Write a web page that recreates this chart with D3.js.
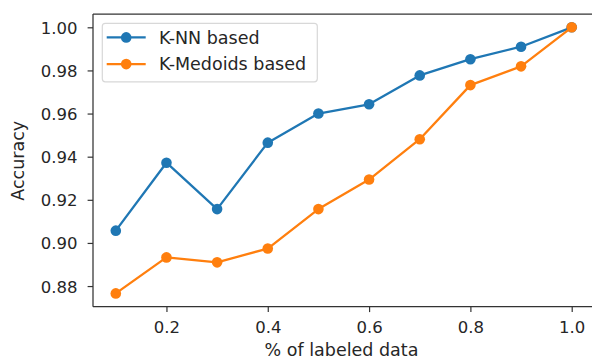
<!DOCTYPE html>
<html><head><meta charset="utf-8">
<script src="https://cdn.jsdelivr.net/npm/d3@7"></script>
<style>body{margin:0;background:#fff}svg{display:block}text{font-family:"DejaVu Sans",sans-serif}</style>
</head><body><svg id="c" width="592" height="361"></svg>
<script>
const xValues = [0.1,0.2,0.3,0.4,0.5,0.6,0.7,0.8,0.9,1.0];
const knnValues = [0.9057,0.9372,0.9157,0.9465,0.9600,0.9643,0.9777,0.9852,0.9910,1.0000];
const medoidValues = [0.8766,0.8933,0.8910,0.8974,0.9157,0.9294,0.9481,0.9732,0.9819,1.0000];
const seriesNames = ["K-NN based","K-Medoids based"];
const xTicks = [0.2,0.4,0.6,0.8,1.0];
const yTicks = [0.88,0.90,0.92,0.94,0.96,0.98,1.00];
const xLabel = "% of labeled data";
const yLabel = "Accuracy";

const colors = ["#1f77b4","#ff7f0e"];
const svg = d3.select("#c");
const L=93, R=594.5, T=14, B=306.7;
const xe = d3.extent(xValues), xp=(xe[1]-xe[0])*0.05;
const allY = knnValues.concat(medoidValues);
const ye = d3.extent(allY), yp=(ye[1]-ye[0])*0.05;
const x = d3.scaleLinear().domain([xe[0]-xp, xe[1]+xp]).range([L,R]);
const y = d3.scaleLinear().domain([ye[0]-yp, ye[1]+yp]).range([B,T]);
const fsTick = 16.5, fs = 17.5, txt="#262626", mr = 5.3;

// series
const series = [knnValues, medoidValues];
const line = d3.line().x((d,i)=>x(xValues[i])).y(d=>y(d));
series.forEach((vals,k)=>{
  const g = svg.append("g");
  g.append("path").attr("d", line(vals)).attr("fill","none").attr("stroke",colors[k]).attr("stroke-width",2.3).attr("stroke-linejoin","round");
  g.selectAll("circle").data(vals).join("circle").attr("cx",(d,i)=>x(xValues[i])).attr("cy",d=>y(d)).attr("r",mr).attr("fill",colors[k]);
});

// axes
const xa = svg.append("g").attr("transform",`translate(0,${B})`).call(d3.axisBottom(x).tickValues(xTicks).tickFormat(d3.format(".1f")).tickSize(5.4).tickPadding(9));
const ya = svg.append("g").attr("transform",`translate(${L},0)`).call(d3.axisLeft(y).tickValues(yTicks).tickFormat(d3.format(".2f")).tickSize(5.4).tickPadding(10));
[xa,ya].forEach(a=>{
  a.select(".domain").remove();
  a.selectAll("line").attr("stroke","#333").attr("stroke-width",1.2);
  a.selectAll("text").attr("font-size",fsTick).attr("fill",txt).attr("font-family","DejaVu Sans");
});
ya.selectAll("text").attr("dy","0.36em");
// spines
const sp = svg.append("g").attr("stroke","#333").attr("stroke-width",1.25).attr("fill","none");
sp.append("line").attr("x1",L).attr("x2",L).attr("y1",T).attr("y2",B);
sp.append("line").attr("x1",L).attr("x2",R).attr("y1",B).attr("y2",B);
sp.append("line").attr("x1",L).attr("x2",R).attr("y1",T).attr("y2",T);
sp.append("line").attr("x1",R).attr("x2",R).attr("y1",T).attr("y2",B);

// labels
svg.append("text").attr("x",341.5).attr("y",356).attr("text-anchor","middle").attr("font-size",fs).attr("fill",txt).text(xLabel);
svg.append("text").attr("transform",`translate(24,160.8) rotate(-90)`).attr("text-anchor","middle").attr("font-size",fs).attr("fill",txt).text(yLabel);

// legend
const lg = svg.append("g");
lg.append("rect").attr("x",102.3).attr("y",23.3).attr("width",215).attr("height",58.5).attr("rx",3).attr("fill","#fff").attr("fill-opacity",0.8).attr("stroke","#d8d8d8").attr("stroke-width",1.2);
seriesNames.forEach((n,k)=>{
  const cy = 37.4 + k*26.7;
  lg.append("line").attr("x1",106.7).attr("x2",145.7).attr("y1",cy).attr("y2",cy).attr("stroke",colors[k]).attr("stroke-width",2.3);
  lg.append("circle").attr("cx",126.2).attr("cy",cy).attr("r",mr).attr("fill",colors[k]);
  lg.append("text").attr("x",159).attr("y",cy).attr("dy","0.36em").attr("font-size",fs).attr("fill",txt).text(n);
});
</script></body></html>
